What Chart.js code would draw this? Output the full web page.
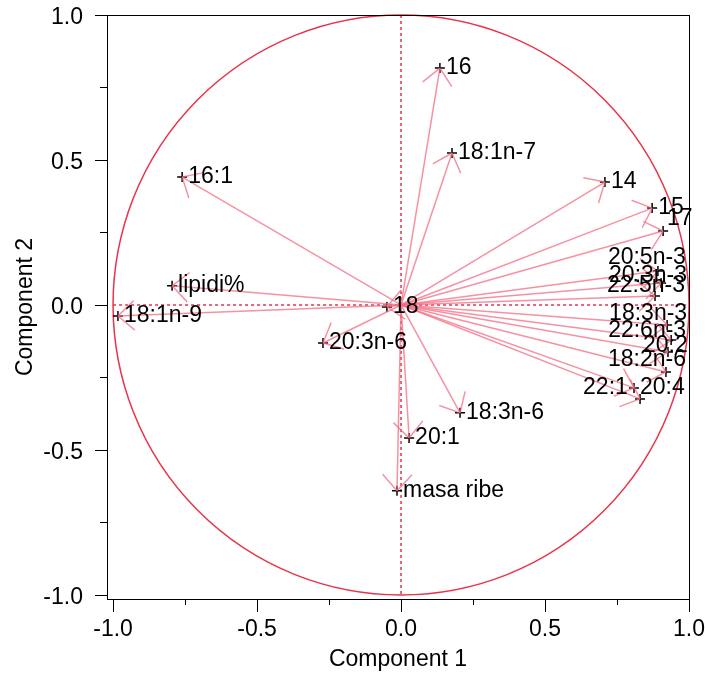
<!DOCTYPE html>
<html>
<head>
<meta charset="utf-8">
<script src="https://cdn.jsdelivr.net/npm/chart.js@4/dist/chart.umd.min.js"></script>
<style>
  body { margin: 0; background: #fff; }
  canvas { display: block; }
</style>
</head>
<body>
<canvas id="loadingChart" width="705" height="673"></canvas>
<script>
// Loadings (Component 1 / Component 2)
const names = ['16', '18:1n-7', '14', '15', '17', '20:5n-3', '20:3n-3', '22:5n-3', '18:3n-3', '22:6n-3',
    '20:2', '18:2n-6', '22:1', '20:4', '18:3n-6', '20:1', 'masa ribe', '20:3n-6', '18', '18:1n-9', 'lipidi%', '16:1'];
const comp1 = [0.135, 0.177, 0.708, 0.872, 0.910, 0.892, 0.903, 0.882, 0.924, 0.938,
    0.927, 0.920, 0.830, 0.809, 0.205, 0.028, -0.014, -0.271, -0.049, -0.983, -0.795, -0.760];
const comp2 = [0.817, 0.524, 0.424, 0.334, 0.255, 0.117, 0.076, 0.031, -0.069, -0.121,
    -0.162, -0.231, -0.324, -0.286, -0.372, -0.459, -0.641, -0.131, -0.007, -0.038, 0.066, 0.441];

// Axis ticks
const majorTicks = [-1.0, -0.5, 0.0, 0.5, 1.0];
const minorTicks = [-0.75, -0.25, 0.25, 0.75];

// Label nudges (pixels) for the crowded labels on the right
const labelNudge = {
    '17': [4, -12],
    '20:5n-3': [-50, -13],
    '20:3n-3': [-52, -7],
    '22:5n-3': [-48, -10],
    '18:3n-3': [-58, -11],
    '22:6n-3': [-63, -9],
    '20:2': [-25, -6],
    '18:2n-6': [-58, -12],
    '22:1': [-57, -11]
};

const FONT = '"Liberation Sans", Arial, sans-serif';
const FONT_SIZE = 23;
const arrowColor = 'rgba(242, 110, 130, 0.75)';
const circleColor = '#e8334a';

const allTicks = majorTicks.concat(minorTicks).sort((a, b) => a - b);

// Arrows: one line dataset per variable, from the origin to its loading
const arrowSets = names.map((n, i) => ({
    type: 'line',
    data: [{x: 0, y: 0}, {x: comp1[i], y: comp2[i]}],
    borderColor: arrowColor,
    borderWidth: 1.5,
    pointRadius: 0,
    fill: false
}));

const markerSet = {
    type: 'scatter',
    data: names.map((n, i) => ({x: comp1[i], y: comp2[i]})),
    pointStyle: 'cross',
    pointRadius: 5,
    borderColor: '#000',
    borderWidth: 1.5,
    backgroundColor: '#000'
};

// Circle, zero lines, frame, tick marks, arrowheads and labels
const decorations = {
    id: 'decorations',
    beforeDatasetsDraw(chart) {
        const {ctx, scales: {x, y}} = chart;
        const x0 = x.getPixelForValue(0), y0 = y.getPixelForValue(0);
        ctx.save();
        ctx.strokeStyle = circleColor;
        ctx.lineWidth = 1.5;
        ctx.beginPath();
        ctx.ellipse(x0, y0, x.getPixelForValue(1) - x0, y0 - y.getPixelForValue(1), 0, 0, Math.PI * 2);
        ctx.stroke();

        ctx.setLineDash([3, 3]);
        ctx.beginPath();
        ctx.moveTo(x.getPixelForValue(-1), y0);
        ctx.lineTo(x.getPixelForValue(1), y0);
        ctx.moveTo(x0, y.getPixelForValue(1));
        ctx.lineTo(x0, y.getPixelForValue(-1));
        ctx.stroke();
        ctx.restore();
    },
    afterDatasetsDraw(chart) {
        const {ctx, chartArea, scales: {x, y}} = chart;
        const x0 = x.getPixelForValue(0), y0 = y.getPixelForValue(0);
        ctx.save();

        // arrowheads
        ctx.strokeStyle = arrowColor;
        ctx.lineWidth = 1.5;
        names.forEach((n, i) => {
            const px = x.getPixelForValue(comp1[i]), py = y.getPixelForValue(comp2[i]);
            const dx = x0 - px, dy = y0 - py;
            const len = Math.hypot(dx, dy) || 1;
            const ux = dx / len, uy = dy / len;
            const a = 42 * Math.PI / 180, L = 22;
            ctx.beginPath();
            [a, -a].forEach(t => {
                const rx = ux * Math.cos(t) - uy * Math.sin(t);
                const ry = ux * Math.sin(t) + uy * Math.cos(t);
                ctx.moveTo(px, py);
                ctx.lineTo(px + rx * L, py + ry * L);
            });
            ctx.stroke();
        });

        // labels
        ctx.fillStyle = '#000';
        ctx.font = FONT_SIZE + 'px ' + FONT;
        ctx.textAlign = 'left';
        ctx.textBaseline = 'middle';
        names.forEach((n, i) => {
            const px = x.getPixelForValue(comp1[i]), py = y.getPixelForValue(comp2[i]);
            const nudge = labelNudge[n] || [6, 0];
            ctx.fillText(n, px + nudge[0], py + nudge[1]);
        });

        // frame
        ctx.strokeStyle = '#000';
        ctx.lineWidth = 1;
        ctx.strokeRect(chartArea.left + 0.5, chartArea.top + 0.5,
            chartArea.right - chartArea.left, chartArea.bottom - chartArea.top);

        // tick marks
        ctx.beginPath();
        allTicks.forEach(v => {
            const major = majorTicks.includes(v);
            const xp = Math.round(x.getPixelForValue(v)) + 0.5;
            ctx.moveTo(xp, chartArea.bottom);
            ctx.lineTo(xp, chartArea.bottom + (major ? 13 : 6));
            const yp = Math.round(y.getPixelForValue(v)) + 0.5;
            ctx.moveTo(chartArea.left, yp);
            ctx.lineTo(chartArea.left - (major ? 12 : 7), yp);
        });
        ctx.stroke();
        ctx.restore();
    }
};

function tickLabel(value) {
    return majorTicks.includes(value) ? value.toFixed(1) : '';
}

new Chart(document.getElementById('loadingChart'), {
    data: {
        datasets: arrowSets.concat([markerSet])
    },
    options: {
        responsive: false,
        animation: false,
        layout: {
            padding: {top: 15, right: 16, left: 0, bottom: 0}
        },
        plugins: {
            legend: {display: false},
            tooltip: {enabled: false}
        },
        scales: {
            x: {
                type: 'linear',
                min: -1.021,
                max: 1.0,
                afterBuildTicks: scale => { scale.ticks = allTicks.map(v => ({value: v})); },
                afterFit: scale => {
                    scale.height = 74;
                    scale.paddingLeft = 0;
                    scale.paddingRight = 0;
                },
                grid: {display: false, drawTicks: false},
                border: {display: false},
                ticks: {
                    padding: 17,
                    maxRotation: 0,
                    autoSkip: false,
                    color: '#000',
                    font: {family: FONT, size: FONT_SIZE},
                    callback: tickLabel
                },
                title: {
                    display: true,
                    text: 'Component 1',
                    color: '#000',
                    font: {family: FONT, size: FONT_SIZE},
                    padding: {top: 0, bottom: 0}
                }
            },
            y: {
                type: 'linear',
                min: -1.014,
                max: 1.0,
                afterBuildTicks: scale => { scale.ticks = allTicks.map(v => ({value: v})); },
                afterFit: scale => {
                    scale.width = 107;
                    scale.paddingTop = 0;
                    scale.paddingBottom = 0;
                },
                grid: {display: false, drawTicks: false},
                border: {display: false},
                ticks: {
                    padding: 24,
                    labelOffset: 3,
                    autoSkip: false,
                    color: '#000',
                    font: {family: FONT, size: FONT_SIZE},
                    callback: tickLabel
                },
                title: {
                    display: true,
                    text: 'Component 2',
                    color: '#000',
                    font: {family: FONT, size: FONT_SIZE},
                    padding: {top: 12, bottom: 0}
                }
            }
        }
    },
    plugins: [decorations]
});
</script>
</body>
</html>
